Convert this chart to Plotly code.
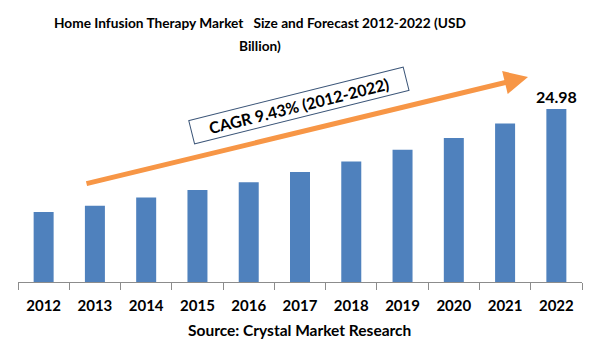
import plotly.graph_objects as go

years = ["2012", "2013", "2014", "2015", "2016", "2017", "2018", "2019", "2020", "2021", "2022"]
market_size = [10.1, 11.0, 12.2, 13.3, 14.4, 15.9, 17.4, 19.1, 20.8, 22.9, 24.98]
bar_labels = [""] * (len(years) - 1) + [f"{market_size[-1]:.2f}"]

title_lines = ["Home Infusion Therapy Market\u00a0\u00a0 Size and Forecast 2012-2022 (USD", "Billion)"]
cagr_text = "CAGR 9.43% (2012-2022)"
source_text = "Source: Crystal Market Research"

FONT = "Lato, 'Open Sans', sans-serif"

fig = go.Figure()
fig.add_trace(go.Bar(
    x=years, y=market_size,
    marker=dict(color="#4F81BD", line=dict(width=0)),
    width=0.39,
    text=bar_labels, textposition="outside", constraintext="none",
    textfont=dict(family=FONT, size=16, color="#000000", weight="bold"),
    cliponaxis=False,
    hoverinfo="skip",
))

W, H = 600, 360
L, R, T, B = 18, 18, 60, 78
pw, ph = W - L - R, H - T - B

def px(x):
    return (x - L) / pw

def py(y):
    return (H - B - y) / ph

annotations = [
    # title lines
    dict(x=px(260), y=py(23), xref="paper", yref="paper", text=title_lines[0],
         showarrow=False, xanchor="center", yanchor="middle",
         font=dict(family=FONT, size=13.7, color="#000000", weight="bold")),
    dict(x=px(260), y=py(46), xref="paper", yref="paper", text=title_lines[1],
         showarrow=False, xanchor="center", yanchor="middle",
         font=dict(family=FONT, size=13.7, color="#000000", weight="bold")),
    # trend arrow
    dict(x=px(528), y=py(77), xref="paper", yref="paper",
         ax=85 - 528, ay=184 - 77, text="", showarrow=True,
         arrowhead=2, arrowsize=0.95, arrowwidth=5, arrowcolor="#F79646"),
    # CAGR box
    dict(x=px(299), y=py(67), xref="paper", yref="paper",
         text=cagr_text, showarrow=False, textangle=-14,
         font=dict(family=FONT, size=16, color="#000000", weight="bold"),
         bordercolor="#3B5578", borderwidth=1, borderpad=2,
         bgcolor="#FFFFFF", width=216, align="center"),
    # source
    dict(x=px(299), y=py(330), xref="paper", yref="paper",
         text=source_text, showarrow=False,
         font=dict(family=FONT, size=15.5, color="#000000", weight="bold"),
         xanchor="center", yanchor="middle"),
]

fig.update_layout(
    width=W, height=H,
    margin=dict(l=L, r=R, t=T, b=B),
    paper_bgcolor="#FFFFFF", plot_bgcolor="#FFFFFF",
    showlegend=False,
    font=dict(family=FONT),
    annotations=annotations,
    xaxis=dict(
        type="category", showline=True, linecolor="#8C8C8C", linewidth=1,
        ticks="outside", tickson="boundaries", ticklen=7, tickcolor="#8C8C8C",
        tickfont=dict(family=FONT, size=15, color="#000000", weight="bold"),
        showgrid=False, zeroline=False, ticklabelstandoff=10,
        range=[-0.5, len(years) - 0.5],
    ),
    yaxis=dict(visible=False, range=[0, market_size[-1] * ph / 173], showgrid=False, zeroline=False),
)

fig.write_html("out.html", config={"displayModeBar": False},
               post_script="document.body.style.margin='0';")
